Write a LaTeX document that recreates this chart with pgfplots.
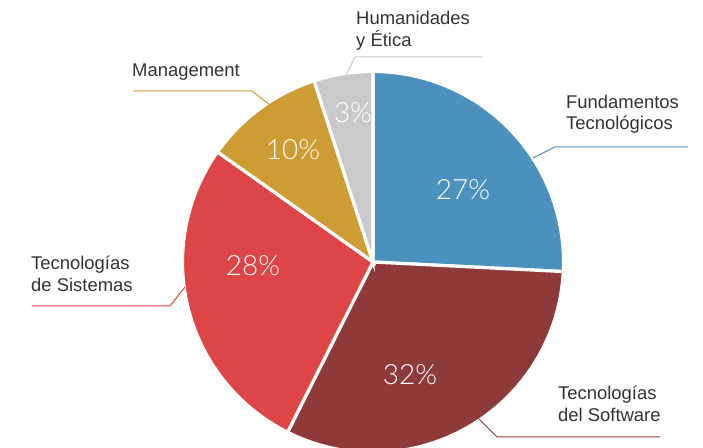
\documentclass[border=0pt]{standalone}
\usepackage{pgfplots}
\usepackage{pgfplotstable}
\pgfplotsset{compat=1.18}
\usepackage{fontspec}
\setmainfont{Liberation Sans}
\newfontfamily\lightfont{Lato}[UprightFont={* Light}]
\definecolor{c0}{RGB}{74,145,190}
\definecolor{c1}{RGB}{142,58,58}
\definecolor{c2}{RGB}{221,69,70}
\definecolor{c3}{RGB}{205,157,51}
\definecolor{c4}{RGB}{201,201,201}
\definecolor{txt}{RGB}{51,51,51}

% slice sizes (percent of the circle, as drawn), printed label, label position
\pgfplotstableread{
value label lx ly
25.8 27 463 258
31.6 32 410 73
27.4 28 253 182
10.2 10 293 298
5.0 3 353 335
}\piedata

\begin{document}
\begin{tikzpicture}
\path[use as bounding box] (0,0) rectangle (703bp,448bp);
\xdef\cum{90}
\foreach \i in {0,1,2,3,4}{%
  \pgfplotstablegetelem{\i}{value}\of\piedata
  \pgfmathsetmacro\st{\cum}%
  \pgfmathsetmacro\en{\cum-3.6*\pgfplotsretval}%
  \expandafter\xdef\csname sS\i\endcsname{\st}%
  \expandafter\xdef\csname sE\i\endcsname{\en}%
  \pgfplotstablegetelem{\i}{label}\of\piedata
  \expandafter\xdef\csname sL\i\endcsname{\pgfplotsretval}%
  \pgfplotstablegetelem{\i}{lx}\of\piedata
  \expandafter\xdef\csname sX\i\endcsname{\pgfplotsretval}%
  \pgfplotstablegetelem{\i}{ly}\of\piedata
  \expandafter\xdef\csname sY\i\endcsname{\pgfplotsretval}%
  \xdef\cum{\en}%
}
\begin{axis}[hide axis, scale only axis, width=703bp, height=448bp,
  xmin=0, xmax=703, ymin=0, ymax=448, clip=false, at={(0,0)}, anchor=south west]
\pgfplotsinvokeforeach{0,1,2,3,4}{
  \fill[c#1, draw=white, line width=3.2bp, line join=miter]
    (axis cs:373,186) -- ++(\csname sS#1\endcsname:190.5bp)
    arc[start angle=\csname sS#1\endcsname, end angle=\csname sE#1\endcsname, radius=190.5bp] -- cycle;
  \node[white, font=\lightfont\fontsize{28}{32}\selectfont] at (axis cs:\csname sX#1\endcsname,\csname sY#1\endcsname) {\csname sL#1\endcsname\%};
}
% leader lines
\addplot[c4, line width=1bp, no marks] coordinates {(482,391) (355,391) (345,371)};
\addplot[c0, line width=1bp, no marks] coordinates {(688,301) (555,301) (533,290)};
\addplot[c2, line width=1bp, no marks] coordinates {(32,142) (170,142) (185,161)};
\addplot[c3, line width=1bp, no marks] coordinates {(133,357) (252,357) (270,343)};
\addplot[c1, line width=1bp, no marks] coordinates {(660,11) (497,11) (478,30)};
% category labels
\begin{scope}[every node/.style={txt, anchor=base west, inner sep=0pt, font=\fontsize{18.5}{22}\selectfont}]
\node at (axis cs:356,423) {Humanidades};
\node at (axis cs:356,401) {y Ética};
\node at (axis cs:566,339) {Fundamentos};
\node at (axis cs:566,318) {Tecnológicos};
\node at (axis cs:31,178) {Tecnologías};
\node at (axis cs:31,156) {de Sistemas};
\node at (axis cs:132,371) {Management};
\node at (axis cs:558,48) {Tecnologías};
\node at (axis cs:558,26) {del Software};
\end{scope}
\end{axis}
\end{tikzpicture}
\end{document}
